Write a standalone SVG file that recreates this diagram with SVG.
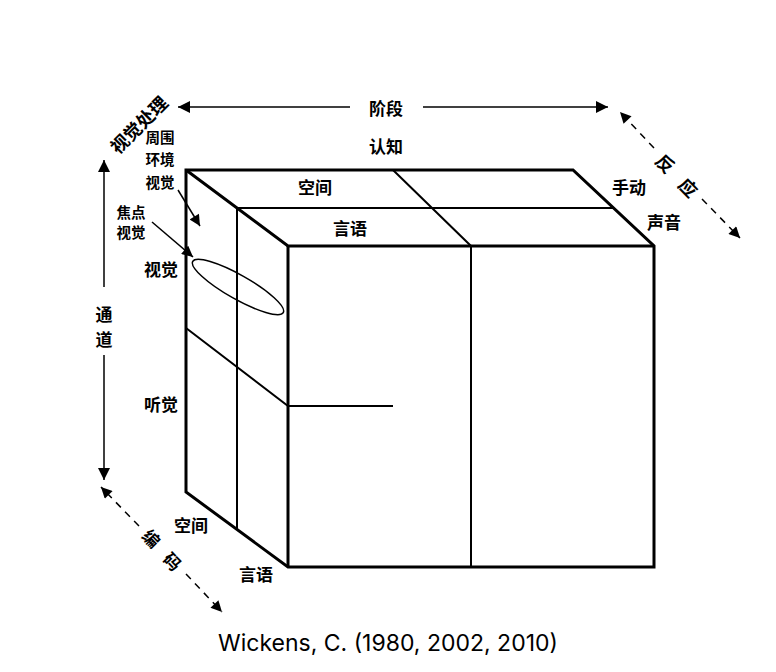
<svg xmlns="http://www.w3.org/2000/svg" width="776" height="672" viewBox="0 0 776 672">
<style>
text{font-family:"Noto Sans CJK SC","Noto Sans",sans-serif;fill:#000;text-anchor:middle;dominant-baseline:central;font-weight:600}
.lbl{font-size:17px}
.big{font-size:18px}
.sm{font-size:14.5px}
.thick{stroke:#000;stroke-width:3;fill:none;stroke-linejoin:miter}
.thin{stroke:#000;stroke-width:2;fill:none}
.ax{stroke:#000;stroke-width:1.5;fill:none}
.dash{stroke:#000;stroke-width:1.5;fill:none;stroke-dasharray:7 6}
.cap{font-family:"Inter","Liberation Sans",sans-serif;font-size:23px;font-weight:400}
</style>
<defs>
<marker id="ah" viewBox="0 0 10 10" refX="10" refY="5" markerWidth="12" markerHeight="11" markerUnits="userSpaceOnUse" orient="auto">
<path d="M0,0 L10,5 L0,10 z" fill="#000"/>
</marker>
<marker id="ahl" viewBox="0 0 10 10" refX="10" refY="5" markerWidth="14" markerHeight="12" markerUnits="userSpaceOnUse" orient="auto">
<path d="M0,0 L10,5 L0,10 z" fill="#000"/>
</marker>
</defs>
<rect width="776" height="672" fill="#fff"/>
<g id="cube">
<path class="thick" d="M186,170 L573,170 L654,246 L654,567 L288,567 L186,492 Z"/>
<path class="thick" d="M186,170 L288,246 L654,246"/>
<path class="thick" d="M288,246 L288,567"/>
<path class="thin" d="M237,208 L613,208"/>
<path class="thin" d="M237,208 L237,530"/>
<path class="thin" d="M393,170 L471,246 L471,567"/>
<path class="thin" d="M186,328 L288,406 L393,406"/>
<ellipse class="ax" cx="238" cy="287" rx="52" ry="12" transform="rotate(29.5 238 287)"/>
</g>
<g id="connectors">
<line class="ax" x1="350" y1="107" x2="178" y2="107" marker-end="url(#ahl)"/>
<line class="ax" x1="423" y1="107" x2="608" y2="107" marker-end="url(#ahl)"/>
<line class="ax" x1="104" y1="287" x2="104" y2="160" marker-end="url(#ahl)"/>
<line class="ax" x1="104" y1="355" x2="104" y2="480" marker-end="url(#ahl)"/>
<line class="dash" x1="654" y1="148" x2="620" y2="112" marker-end="url(#ah)"/>
<line class="dash" x1="702" y1="199" x2="740" y2="238" marker-end="url(#ah)"/>
<line class="dash" x1="139" y1="526" x2="101" y2="487" marker-end="url(#ah)"/>
<line class="dash" x1="186" y1="574" x2="222" y2="612" marker-end="url(#ah)"/>
<line class="ax" x1="178" y1="190" x2="200" y2="226" marker-end="url(#ah)"/>
<line class="ax" x1="152" y1="222" x2="193" y2="257" marker-end="url(#ah)"/>
</g>
<g id="labels">
<text class="lbl" x="386" y="107">阶段</text>
<text class="lbl" x="386" y="145">认知</text>
<text class="big" x="138" y="124" transform="rotate(-45 138 124)">视觉处理</text>
<text class="lbl" x="104" y="313">通</text>
<text class="lbl" x="104" y="338">道</text>
<text class="big" x="666" y="163" transform="rotate(46 666 163)">反</text>
<text class="big" x="689" y="187" transform="rotate(46 689 187)">应</text>
<text class="lbl" x="152" y="538" transform="rotate(46 152 538)">编</text>
<text class="lbl" x="173" y="561" transform="rotate(46 173 561)">码</text>
<text class="sm" x="160" y="136">周围</text>
<text class="sm" x="160" y="158">环境</text>
<text class="sm" x="160" y="181">视觉</text>
<text class="sm" x="131" y="211">焦点</text>
<text class="sm" x="131" y="231">视觉</text>
<text class="lbl" x="161" y="268">视觉</text>
<text class="lbl" x="161" y="403">听觉</text>
<text class="lbl" x="315" y="186">空间</text>
<text class="lbl" x="350" y="227">言语</text>
<text class="lbl" x="629" y="186">手动</text>
<text class="lbl" x="664" y="221">声音</text>
<text class="lbl" x="191" y="524">空间</text>
<text class="lbl" x="256" y="573">言语</text>
<text class="cap" x="388" y="643">Wickens, C. (1980, 2002, 2010)</text>
</g>
</svg>
